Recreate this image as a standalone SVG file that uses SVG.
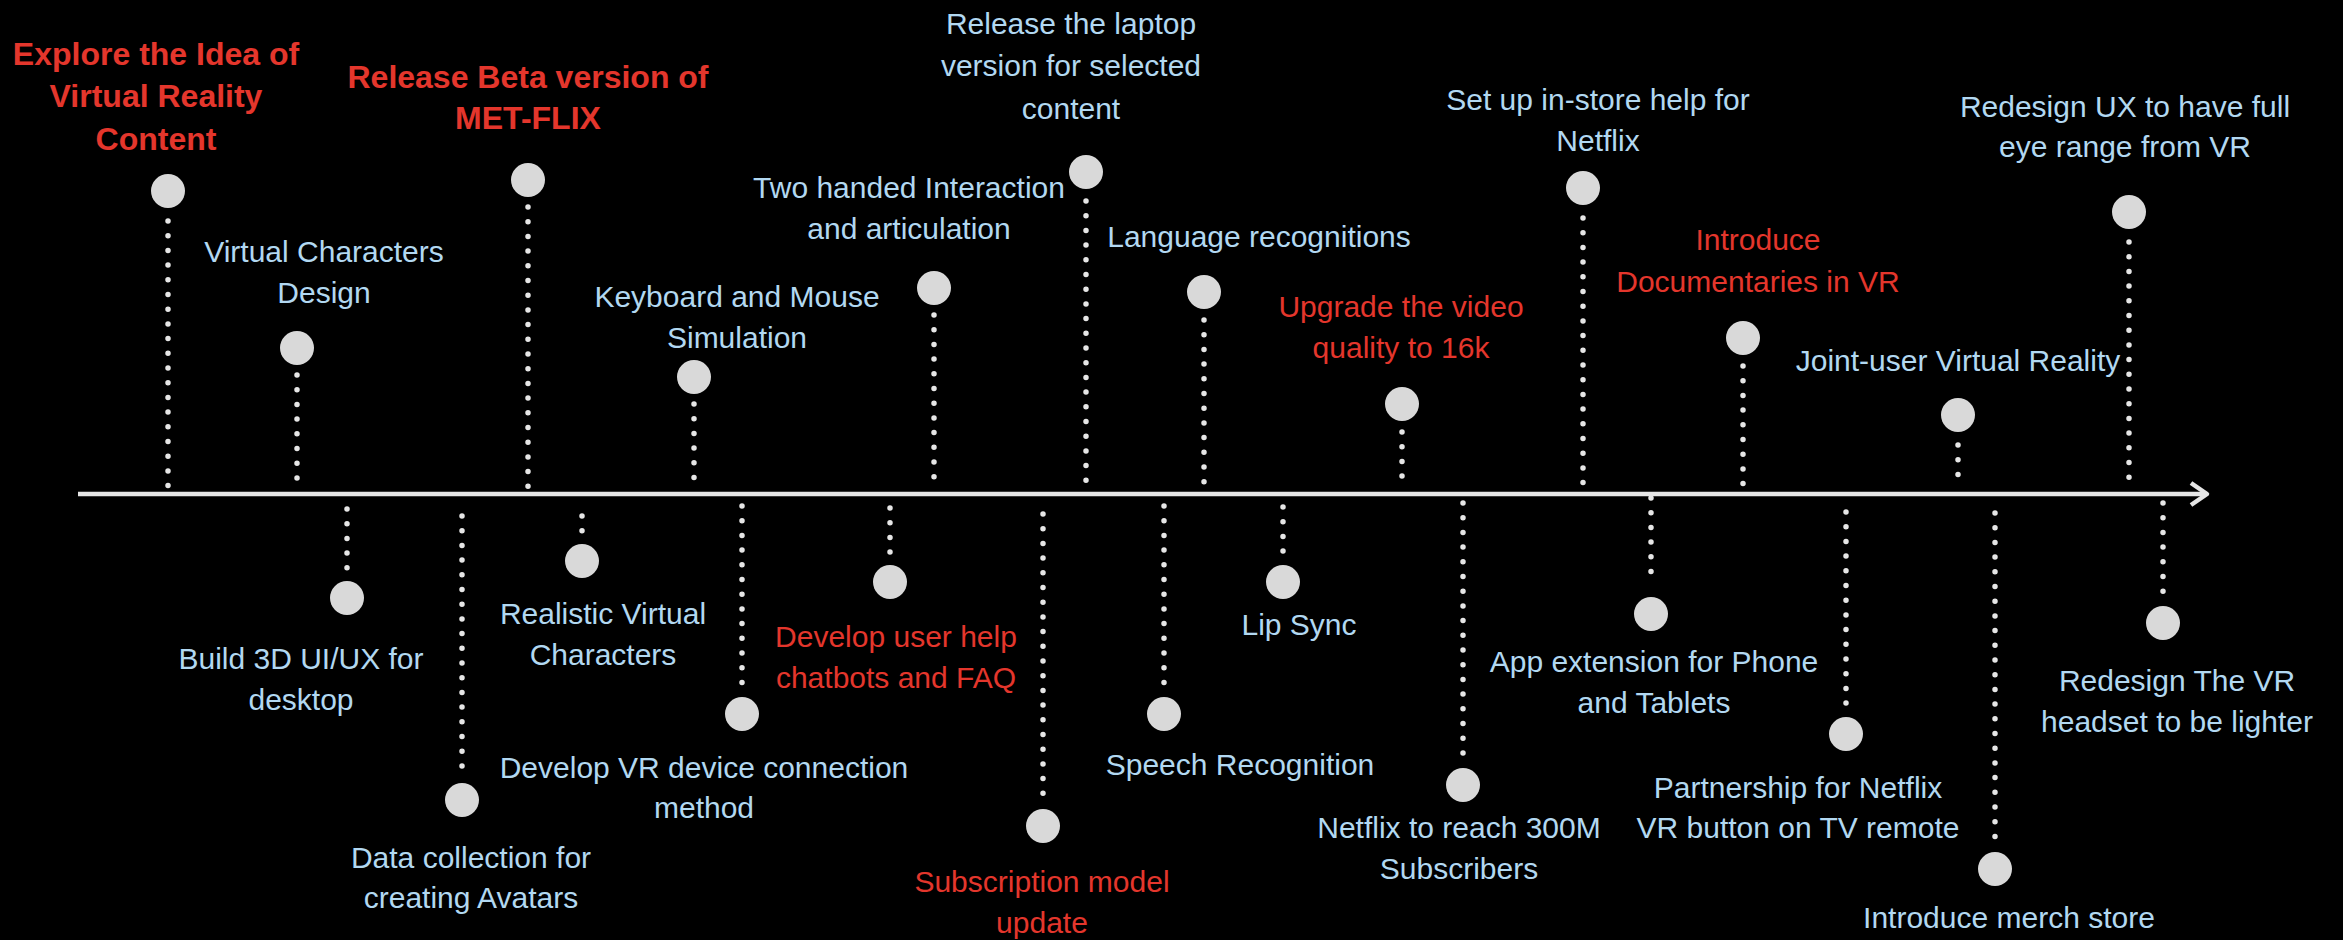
<svg xmlns="http://www.w3.org/2000/svg" width="2343" height="940" viewBox="0 0 2343 940">
<style>
.bg{fill:#000}
.dot{fill:#d9d9d9}
.lk{stroke:#e6e6e6;stroke-width:5.5;stroke-linecap:round;stroke-dasharray:0 14.7;fill:none}
.axis{stroke:#e6e6e6;stroke-width:4.5;fill:none}
.t{font-family:"Liberation Sans",Arial,Helvetica,sans-serif;text-anchor:middle}
.b{fill:#b2d8f1;font-size:30px}
.r{fill:#e4362c;font-size:30px}
.rb{fill:#e4362c;font-size:32px;font-weight:bold}
</style>
<rect class="bg" x="0" y="0" width="2343" height="940"/>
<g id="connectors">
<line class="axis" x1="78" y1="494" x2="2206" y2="494"/>
<polyline class="axis" points="2191,483 2207,494 2191,505" stroke-linejoin="round"/>
<line class="lk" x1="168" y1="221" x2="168" y2="488"/>
<line class="lk" x1="297" y1="375" x2="297" y2="488"/>
<line class="lk" x1="528" y1="207" x2="528" y2="488"/>
<line class="lk" x1="694" y1="404" x2="694" y2="488"/>
<line class="lk" x1="934" y1="315" x2="934" y2="488"/>
<line class="lk" x1="1086" y1="201" x2="1086" y2="488"/>
<line class="lk" x1="1204" y1="320" x2="1204" y2="488"/>
<line class="lk" x1="1402" y1="432" x2="1402" y2="488"/>
<line class="lk" x1="1583" y1="218" x2="1583" y2="488"/>
<line class="lk" x1="1743" y1="366" x2="1743" y2="488"/>
<line class="lk" x1="1958" y1="445" x2="1958" y2="488"/>
<line class="lk" x1="2129" y1="242" x2="2129" y2="488"/>
<line class="lk" x1="347" y1="509" x2="347" y2="569"/>
<line class="lk" x1="462" y1="516" x2="462" y2="772"/>
<line class="lk" x1="582" y1="516" x2="582" y2="532"/>
<line class="lk" x1="742" y1="506" x2="742" y2="686"/>
<line class="lk" x1="890" y1="508" x2="890" y2="553"/>
<line class="lk" x1="1043" y1="514" x2="1043" y2="798"/>
<line class="lk" x1="1164" y1="506" x2="1164" y2="686"/>
<line class="lk" x1="1283" y1="507" x2="1283" y2="553"/>
<line class="lk" x1="1463" y1="503" x2="1463" y2="757"/>
<line class="lk" x1="1651" y1="498" x2="1651" y2="586"/>
<line class="lk" x1="1846" y1="512" x2="1846" y2="705"/>
<line class="lk" x1="1995" y1="513" x2="1995" y2="840"/>
<line class="lk" x1="2163" y1="503" x2="2163" y2="594"/>
</g>
<g id="n1"><circle class="dot" cx="168" cy="191" r="17"/><text class="t rb"><tspan x="156" y="65">Explore the Idea of</tspan><tspan x="156" y="107">Virtual Reality</tspan><tspan x="156" y="150">Content</tspan></text></g>
<g id="n2"><circle class="dot" cx="297" cy="348" r="17"/><text class="t b"><tspan x="324" y="262">Virtual Characters</tspan><tspan x="324" y="303">Design</tspan></text></g>
<g id="n3"><circle class="dot" cx="528" cy="180" r="17"/><text class="t rb"><tspan x="528" y="88">Release Beta version of</tspan><tspan x="528" y="129">MET-FLIX</tspan></text></g>
<g id="n4"><circle class="dot" cx="694" cy="377" r="17"/><text class="t b"><tspan x="737" y="307">Keyboard and Mouse</tspan><tspan x="737" y="348">Simulation</tspan></text></g>
<g id="n5"><circle class="dot" cx="934" cy="288" r="17"/><text class="t b"><tspan x="909" y="198">Two handed Interaction</tspan><tspan x="909" y="239">and articulation</tspan></text></g>
<g id="n6"><circle class="dot" cx="1086" cy="172" r="17"/><text class="t b"><tspan x="1071" y="34">Release the laptop</tspan><tspan x="1071" y="76">version for selected</tspan><tspan x="1071" y="119">content</tspan></text></g>
<g id="n7"><circle class="dot" cx="1204" cy="292" r="17"/><text class="t b" x="1259" y="247">Language recognitions</text></g>
<g id="n8"><circle class="dot" cx="1402" cy="404" r="17"/><text class="t r"><tspan x="1401" y="317">Upgrade the video</tspan><tspan x="1401" y="358">quality to 16k</tspan></text></g>
<g id="n9"><circle class="dot" cx="1583" cy="188" r="17"/><text class="t b"><tspan x="1598" y="110">Set up in-store help for</tspan><tspan x="1598" y="151">Netflix</tspan></text></g>
<g id="n10"><circle class="dot" cx="1743" cy="338" r="17"/><text class="t r"><tspan x="1758" y="250">Introduce</tspan><tspan x="1758" y="292">Documentaries in VR</tspan></text></g>
<g id="n11"><circle class="dot" cx="1958" cy="415" r="17"/><text class="t b" x="1958" y="371">Joint-user Virtual Reality</text></g>
<g id="n12"><circle class="dot" cx="2129" cy="212" r="17"/><text class="t b"><tspan x="2125" y="117">Redesign UX to have full</tspan><tspan x="2125" y="157">eye range from VR</tspan></text></g>
<g id="n13"><circle class="dot" cx="347" cy="598" r="17"/><text class="t b"><tspan x="301" y="669">Build 3D UI/UX for</tspan><tspan x="301" y="710">desktop</tspan></text></g>
<g id="n14"><circle class="dot" cx="462" cy="800" r="17"/><text class="t b"><tspan x="471" y="868">Data collection for</tspan><tspan x="471" y="908">creating Avatars</tspan></text></g>
<g id="n15"><circle class="dot" cx="582" cy="561" r="17"/><text class="t b"><tspan x="603" y="624">Realistic Virtual</tspan><tspan x="603" y="665">Characters</tspan></text></g>
<g id="n16"><circle class="dot" cx="742" cy="714" r="17"/><text class="t b"><tspan x="704" y="778">Develop VR device connection</tspan><tspan x="704" y="818">method</tspan></text></g>
<g id="n17"><circle class="dot" cx="890" cy="582" r="17"/><text class="t r"><tspan x="896" y="647">Develop user help</tspan><tspan x="896" y="688">chatbots and FAQ</tspan></text></g>
<g id="n18"><circle class="dot" cx="1043" cy="826" r="17"/><text class="t r"><tspan x="1042" y="892">Subscription model</tspan><tspan x="1042" y="933">update</tspan></text></g>
<g id="n19"><circle class="dot" cx="1164" cy="714" r="17"/><text class="t b" x="1240" y="775">Speech Recognition</text></g>
<g id="n20"><circle class="dot" cx="1283" cy="582" r="17"/><text class="t b" x="1299" y="635">Lip Sync</text></g>
<g id="n21"><circle class="dot" cx="1463" cy="785" r="17"/><text class="t b"><tspan x="1459" y="838">Netflix to reach 300M</tspan><tspan x="1459" y="879">Subscribers</tspan></text></g>
<g id="n22"><circle class="dot" cx="1651" cy="614" r="17"/><text class="t b"><tspan x="1654" y="672">App extension for Phone</tspan><tspan x="1654" y="713">and Tablets</tspan></text></g>
<g id="n23"><circle class="dot" cx="1846" cy="734" r="17"/><text class="t b"><tspan x="1798" y="798">Partnership for Netflix</tspan><tspan x="1798" y="838">VR button on TV remote</tspan></text></g>
<g id="n24"><circle class="dot" cx="1995" cy="869" r="17"/><text class="t b" x="2009" y="928">Introduce merch store</text></g>
<g id="n25"><circle class="dot" cx="2163" cy="623" r="17"/><text class="t b"><tspan x="2177" y="691">Redesign The VR</tspan><tspan x="2177" y="732">headset to be lighter</tspan></text></g>
</svg>
